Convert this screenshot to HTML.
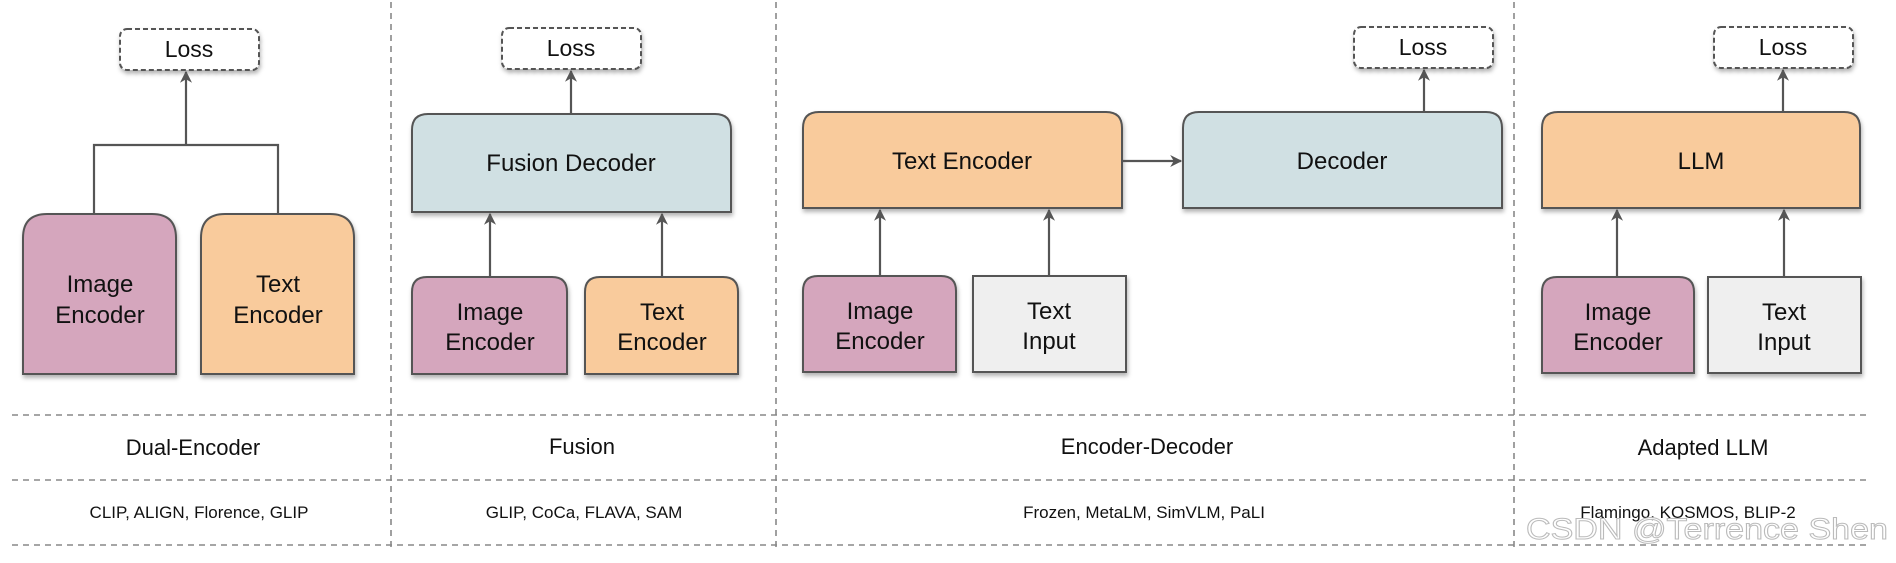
<!DOCTYPE html>
<html><head><meta charset="utf-8"><style>
html,body{margin:0;padding:0;background:#fff;}
svg{display:block;}
text{font-family:"Liberation Sans",Arial,sans-serif;fill:#111;}
</style></head><body>
<svg width="1896" height="563" viewBox="0 0 1896 563" xmlns="http://www.w3.org/2000/svg">
<defs>
<marker id="ah" viewBox="0 0 10 10" refX="9" refY="5" markerWidth="14" markerHeight="12" orient="auto-start-reverse" markerUnits="userSpaceOnUse">
<path d="M0,0 L10,5 L0,10 L3,5 z" fill="#555"/>
</marker>
<filter id="sh" x="-10%" y="-10%" width="130%" height="130%"><feDropShadow dx="1" dy="3" stdDeviation="2" flood-color="#000" flood-opacity="0.3"/></filter>
</defs>
<g stroke="#888" stroke-width="1.6" stroke-dasharray="6,5" fill="none">
<line x1="391" y1="2" x2="391" y2="548"/>
<line x1="776" y1="2" x2="776" y2="548"/>
<line x1="1514" y1="2" x2="1514" y2="548"/>
<line x1="12" y1="415" x2="1868" y2="415"/>
<line x1="12" y1="480" x2="1868" y2="480"/>
<line x1="12" y1="545" x2="1868" y2="545"/>
</g>
<g fill="#fff" stroke="#555" stroke-width="2" stroke-dasharray="5,3" filter="url(#sh)">
<rect x="120" y="29" width="139" height="41" rx="7"/>
<rect x="502" y="28" width="139" height="41" rx="7"/>
<rect x="1354" y="27" width="139" height="41" rx="7"/>
<rect x="1714" y="27" width="139" height="41" rx="7"/>
</g>
<g font-size="23" text-anchor="middle">
<text x="189" y="57">Loss</text>
<text x="571" y="56">Loss</text>
<text x="1423" y="55">Loss</text>
<text x="1783" y="55">Loss</text>
</g>
<g stroke="#555" stroke-width="2" filter="url(#sh)">
<path d="M23,374 V238 Q23,214 47,214 H152 Q176,214 176,238 V374 Z" fill="#d5a6bd"/>
<path d="M201,374 V238 Q201,214 225,214 H330 Q354,214 354,238 V374 Z" fill="#f9cb9c"/>
<path d="M412,212 V130 Q412,114 428,114 H715 Q731,114 731,130 V212 Z" fill="#d0e0e3"/>
<path d="M412,374 V292 Q412,277 427,277 H552 Q567,277 567,292 V374 Z" fill="#d5a6bd"/>
<path d="M585,374 V292 Q585,277 600,277 H723 Q738,277 738,292 V374 Z" fill="#f9cb9c"/>
<path d="M803,208 V128 Q803,112 819,112 H1106 Q1122,112 1122,128 V208 Z" fill="#f9cb9c"/>
<path d="M1183,208 V128 Q1183,112 1199,112 H1486 Q1502,112 1502,128 V208 Z" fill="#d0e0e3"/>
<path d="M803,372 V291 Q803,276 818,276 H941 Q956,276 956,291 V372 Z" fill="#d5a6bd"/>
<rect x="973" y="276" width="153" height="96" fill="#efefef"/>
<path d="M1542,208 V128 Q1542,112 1558,112 H1844 Q1860,112 1860,128 V208 Z" fill="#f9cb9c"/>
<path d="M1542,373 V292 Q1542,277 1557,277 H1679 Q1694,277 1694,292 V373 Z" fill="#d5a6bd"/>
<rect x="1708" y="277" width="153" height="96" fill="#efefef"/>
</g>
<g stroke="#555" stroke-width="2.2" fill="none">
<polyline points="94,214 94,145 278,145 278,214"/>
<line x1="186" y1="145" x2="186" y2="72" marker-end="url(#ah)"/>
<line x1="571" y1="114" x2="571" y2="71" marker-end="url(#ah)"/>
<line x1="490" y1="277" x2="490" y2="214" marker-end="url(#ah)"/>
<line x1="662" y1="277" x2="662" y2="214" marker-end="url(#ah)"/>
<line x1="880" y1="276" x2="880" y2="210" marker-end="url(#ah)"/>
<line x1="1049" y1="276" x2="1049" y2="210" marker-end="url(#ah)"/>
<line x1="1122" y1="161" x2="1181" y2="161" marker-end="url(#ah)"/>
<line x1="1424" y1="112" x2="1424" y2="70" marker-end="url(#ah)"/>
<line x1="1783" y1="112" x2="1783" y2="70" marker-end="url(#ah)"/>
<line x1="1617" y1="277" x2="1617" y2="210" marker-end="url(#ah)"/>
<line x1="1784" y1="277" x2="1784" y2="210" marker-end="url(#ah)"/>
</g>
<g font-size="24" text-anchor="middle">
<text x="100" y="292">Image</text><text x="100" y="323">Encoder</text>
<text x="278" y="292">Text</text><text x="278" y="323">Encoder</text>
<text x="571" y="171">Fusion Decoder</text>
<text x="490" y="320">Image</text><text x="490" y="350">Encoder</text>
<text x="662" y="320">Text</text><text x="662" y="350">Encoder</text>
<text x="962" y="169">Text Encoder</text>
<text x="1342" y="169">Decoder</text>
<text x="880" y="319">Image</text><text x="880" y="349">Encoder</text>
<text x="1049" y="319">Text</text><text x="1049" y="349">Input</text>
<text x="1701" y="169">LLM</text>
<text x="1618" y="320">Image</text><text x="1618" y="350">Encoder</text>
<text x="1784" y="320">Text</text><text x="1784" y="350">Input</text>
</g>
<g font-size="22" text-anchor="middle">
<text x="193" y="455">Dual-Encoder</text>
<text x="582" y="454">Fusion</text>
<text x="1147" y="454">Encoder-Decoder</text>
<text x="1703" y="455">Adapted LLM</text>
</g>
<g font-size="17" text-anchor="middle">
<text x="199" y="518">CLIP, ALIGN, Florence, GLIP</text>
<text x="584" y="518">GLIP, CoCa, FLAVA, SAM</text>
<text x="1144" y="518">Frozen, MetaLM, SimVLM, PaLI</text>
<text x="1688" y="518">Flamingo, KOSMOS, BLIP-2</text>
</g>
<text x="1526" y="539" font-size="30" textLength="362" lengthAdjust="spacingAndGlyphs" style="fill:#fff;stroke:#bbb;stroke-width:1">CSDN @Terrence Shen</text>
</svg>
</body></html>
